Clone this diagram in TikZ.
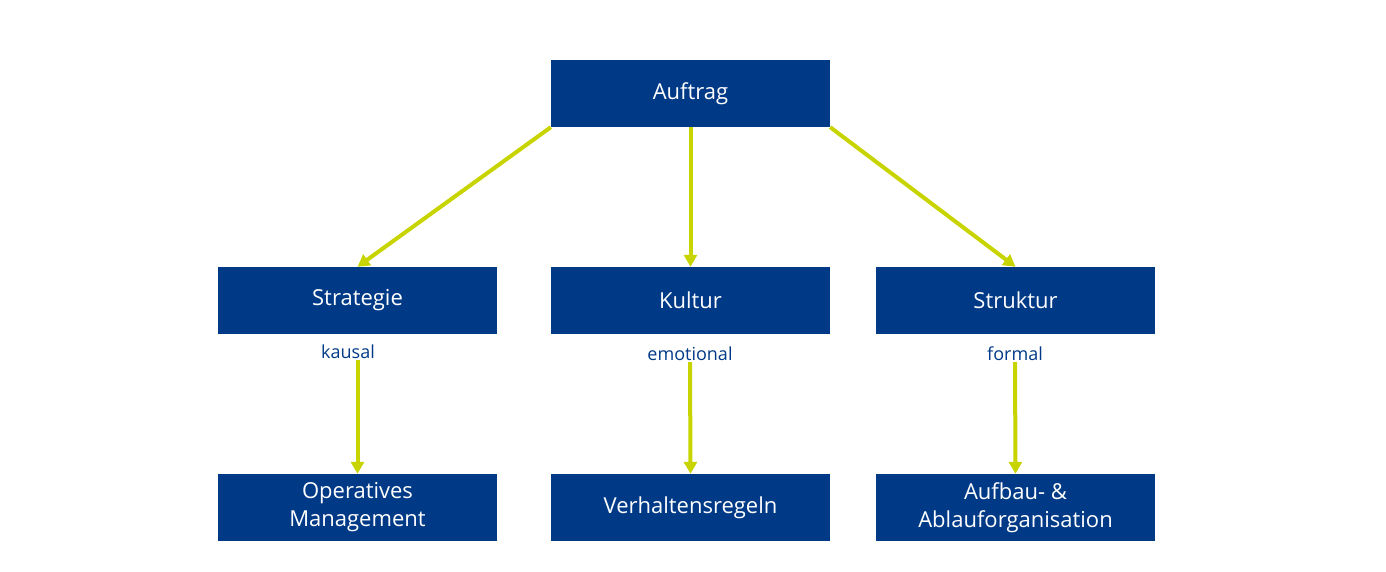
\documentclass[tikz,border=0pt]{standalone}
\usepackage{fontspec}
\setmainfont{Open Sans}
\usetikzlibrary{arrows.meta}
\definecolor{boxblue}{HTML}{003A87}
\definecolor{arrgreen}{HTML}{C8D400}
\begin{document}
\begin{tikzpicture}[x=1pt,y=-1pt,
  box/.style={fill=boxblue,text=white,minimum width=279pt,minimum height=67pt,inner sep=0pt,align=center,font=\fontsize{22}{28}\selectfont},
  lbl/.style={text=boxblue,font=\fontsize{18}{22}\selectfont,inner sep=1pt},
  arr/.style={draw=arrgreen,line width=4pt,-{Triangle[length=12pt,width=13pt]}}]
\useasboundingbox (0,0) rectangle (1386,572);
\node[box] (auf) at (690.5,93.5) {Auftrag};
\node[box] (str) at (357.5,300.5) {Strategie};
\node[box] (kul) at (690.5,300.5) {Kultur};
\node[box] (stu) at (1015.5,300.5) {Struktur};
\node[box] (op) at (357.5,507.5) {Operatives\\Management};
\node[box] (ver) at (690.5,507.5) {Verhaltensregeln};
\node[box] (auo) at (1015.5,507.5) {Aufbau- \&\\Ablauforganisation};
\node[lbl] (l1) at (348,352) {kausal};
\node[lbl] (l2) at (690,354) {emotional};
\node[lbl] (l3) at (1015,354) {formal};
\draw[arr] (auf.south west) -- (str.north);
\draw[arr] (auf.south) -- (kul.north);
\draw[arr] (auf.south east) -- (stu.north);
\draw[arr] (str.south |- l1.south) -- (op.north);
\draw[arr] (l2.south) -- (ver.north);
\draw[arr] (l3.south) -- (auo.north);
\end{tikzpicture}
\end{document}
